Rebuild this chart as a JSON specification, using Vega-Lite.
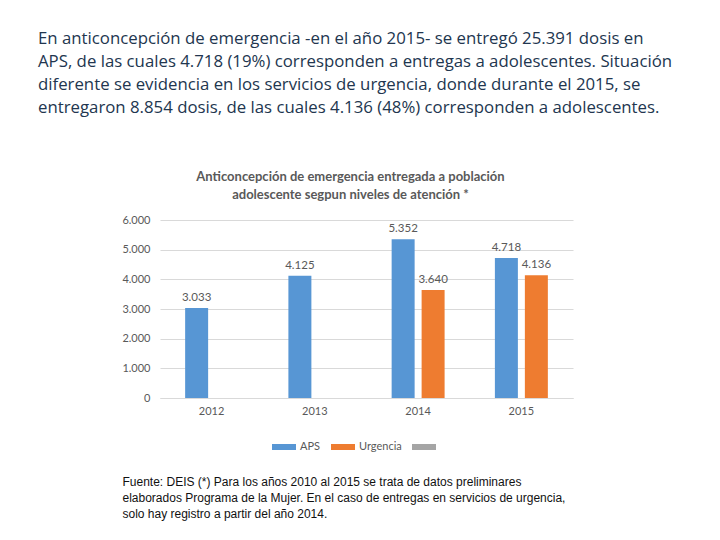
{
  "$schema": "https://vega.github.io/schema/vega-lite/v6.json",
  "width": 413,
  "height": 178,
  "autosize": "none",
  "padding": {"left": 160, "top": 220, "right": 147, "bottom": 142},
  "background": "white",
  "title": {
    "text": [
      "En anticoncepción de emergencia -en el año 2015- se entregó 25.391 dosis en",
      "APS, de las cuales 4.718 (19%) corresponden a entregas a adolescentes. Situación",
      "diferente se evidencia en los servicios de urgencia, donde durante el 2015, se",
      "entregaron 8.854 dosis, de las cuales 4.136 (48%) corresponden a adolescentes."
    ],
    "anchor": "start",
    "frame": "group",
    "dx": -122,
    "offset": 53,
    "font": "Open Sans",
    "fontSize": 16.8,
    "fontWeight": "normal",
    "color": "#22364F",
    "lineHeight": 23
  },
  "data": {
    "values": [
      {"year": "2012", "serie": "APS", "dosis": 3033},
      {"year": "2013", "serie": "APS", "dosis": 4125},
      {"year": "2014", "serie": "APS", "dosis": 5352},
      {"year": "2014", "serie": "Urgencia", "dosis": 3640},
      {"year": "2015", "serie": "APS", "dosis": 4718},
      {"year": "2015", "serie": "Urgencia", "dosis": 4136}
    ]
  },
  "encoding": {
    "x": {
      "field": "year",
      "type": "nominal",
      "scale": {"paddingInner": 0.487, "paddingOuter": 0.2435},
      "axis": {
        "title": [
          "Fuente: DEIS (*) Para los años 2010 al 2015 se trata de datos preliminares",
          "elaborados Programa de la Mujer. En el caso de entregas en servicios de urgencia,",
          "solo hay registro a partir del año 2014."
        ],
        "titleX": -38,
        "titleY": 78,
        "titleAlign": "left",
        "titleAnchor": "start",
        "titleBaseline": "top",
        "titleFont": "Liberation Sans",
        "titleFontSize": 12,
        "titleFontWeight": "normal",
        "titleColor": "#111111",
        "titleLineHeight": 16,
        "labelAngle": 0,
        "labelFont": "Lato",
        "labelFontSize": 11,
        "labelColor": "#595959",
        "labelPadding": 7,
        "ticks": false,
        "domain": true,
        "domainColor": "#D9D9D9"
      }
    },
    "xOffset": {
      "field": "serie",
      "type": "nominal",
      "scale": {"domain": ["APS", "Urgencia"], "paddingInner": 0.233}
    },
    "y": {
      "field": "dosis",
      "type": "quantitative",
      "scale": {"domain": [0, 6000]},
      "axis": {
        "values": [0, 1000, 2000, 3000, 4000, 5000, 6000],
        "format": ",d",
        "domain": false,
        "ticks": false,
        "grid": true,
        "gridColor": "#D9D9D9",
        "labelFont": "Lato",
        "labelFontSize": 11,
        "labelColor": "#595959",
        "labelPadding": 10,
        "title": [
          "Anticoncepción de emergencia entregada a población",
          "adolescente segpun niveles de atención *"
        ],
        "titleAngle": 0,
        "titleX": 190,
        "titleY": -50,
        "titleAlign": "center",
        "titleBaseline": "top",
        "titleFont": "Lato",
        "titleFontSize": 13,
        "titleFontWeight": "bold",
        "titleColor": "#595959",
        "titleLineHeight": 18
      }
    }
  },
  "layer": [
    {
      "mark": {"type": "bar"},
      "encoding": {
        "color": {
          "field": "serie",
          "type": "nominal",
          "scale": {"domain": ["APS", "Urgencia", " "], "range": ["#5796D4", "#EE7C30", "#A5A5A5"]},
          "legend": {
            "orient": "none",
            "legendX": 112,
            "legendY": 215,
            "direction": "horizontal",
            "title": null,
            "symbolType": "M-1,-0.25L1,-0.25L1,0.25L-1,0.25Z",
            "symbolSize": 576,
            "symbolStrokeWidth": 0,
            "labelFont": "Lato",
            "labelFontSize": 11,
            "labelColor": "#595959",
            "labelOffset": 4,
            "columnPadding": 10
          }
        }
      }
    },
    {
      "mark": {"type": "text", "baseline": "bottom", "dy": -5, "font": "Lato", "fontSize": 11.5, "color": "#595959"},
      "encoding": {
        "text": {"field": "dosis", "type": "quantitative", "format": ",d"}
      }
    }
  ],
  "config": {
    "locale": {
      "number": {"decimal": ",", "thousands": ".", "grouping": [3], "currency": ["$", ""]}
    },
    "view": {"stroke": null}
  }
}
